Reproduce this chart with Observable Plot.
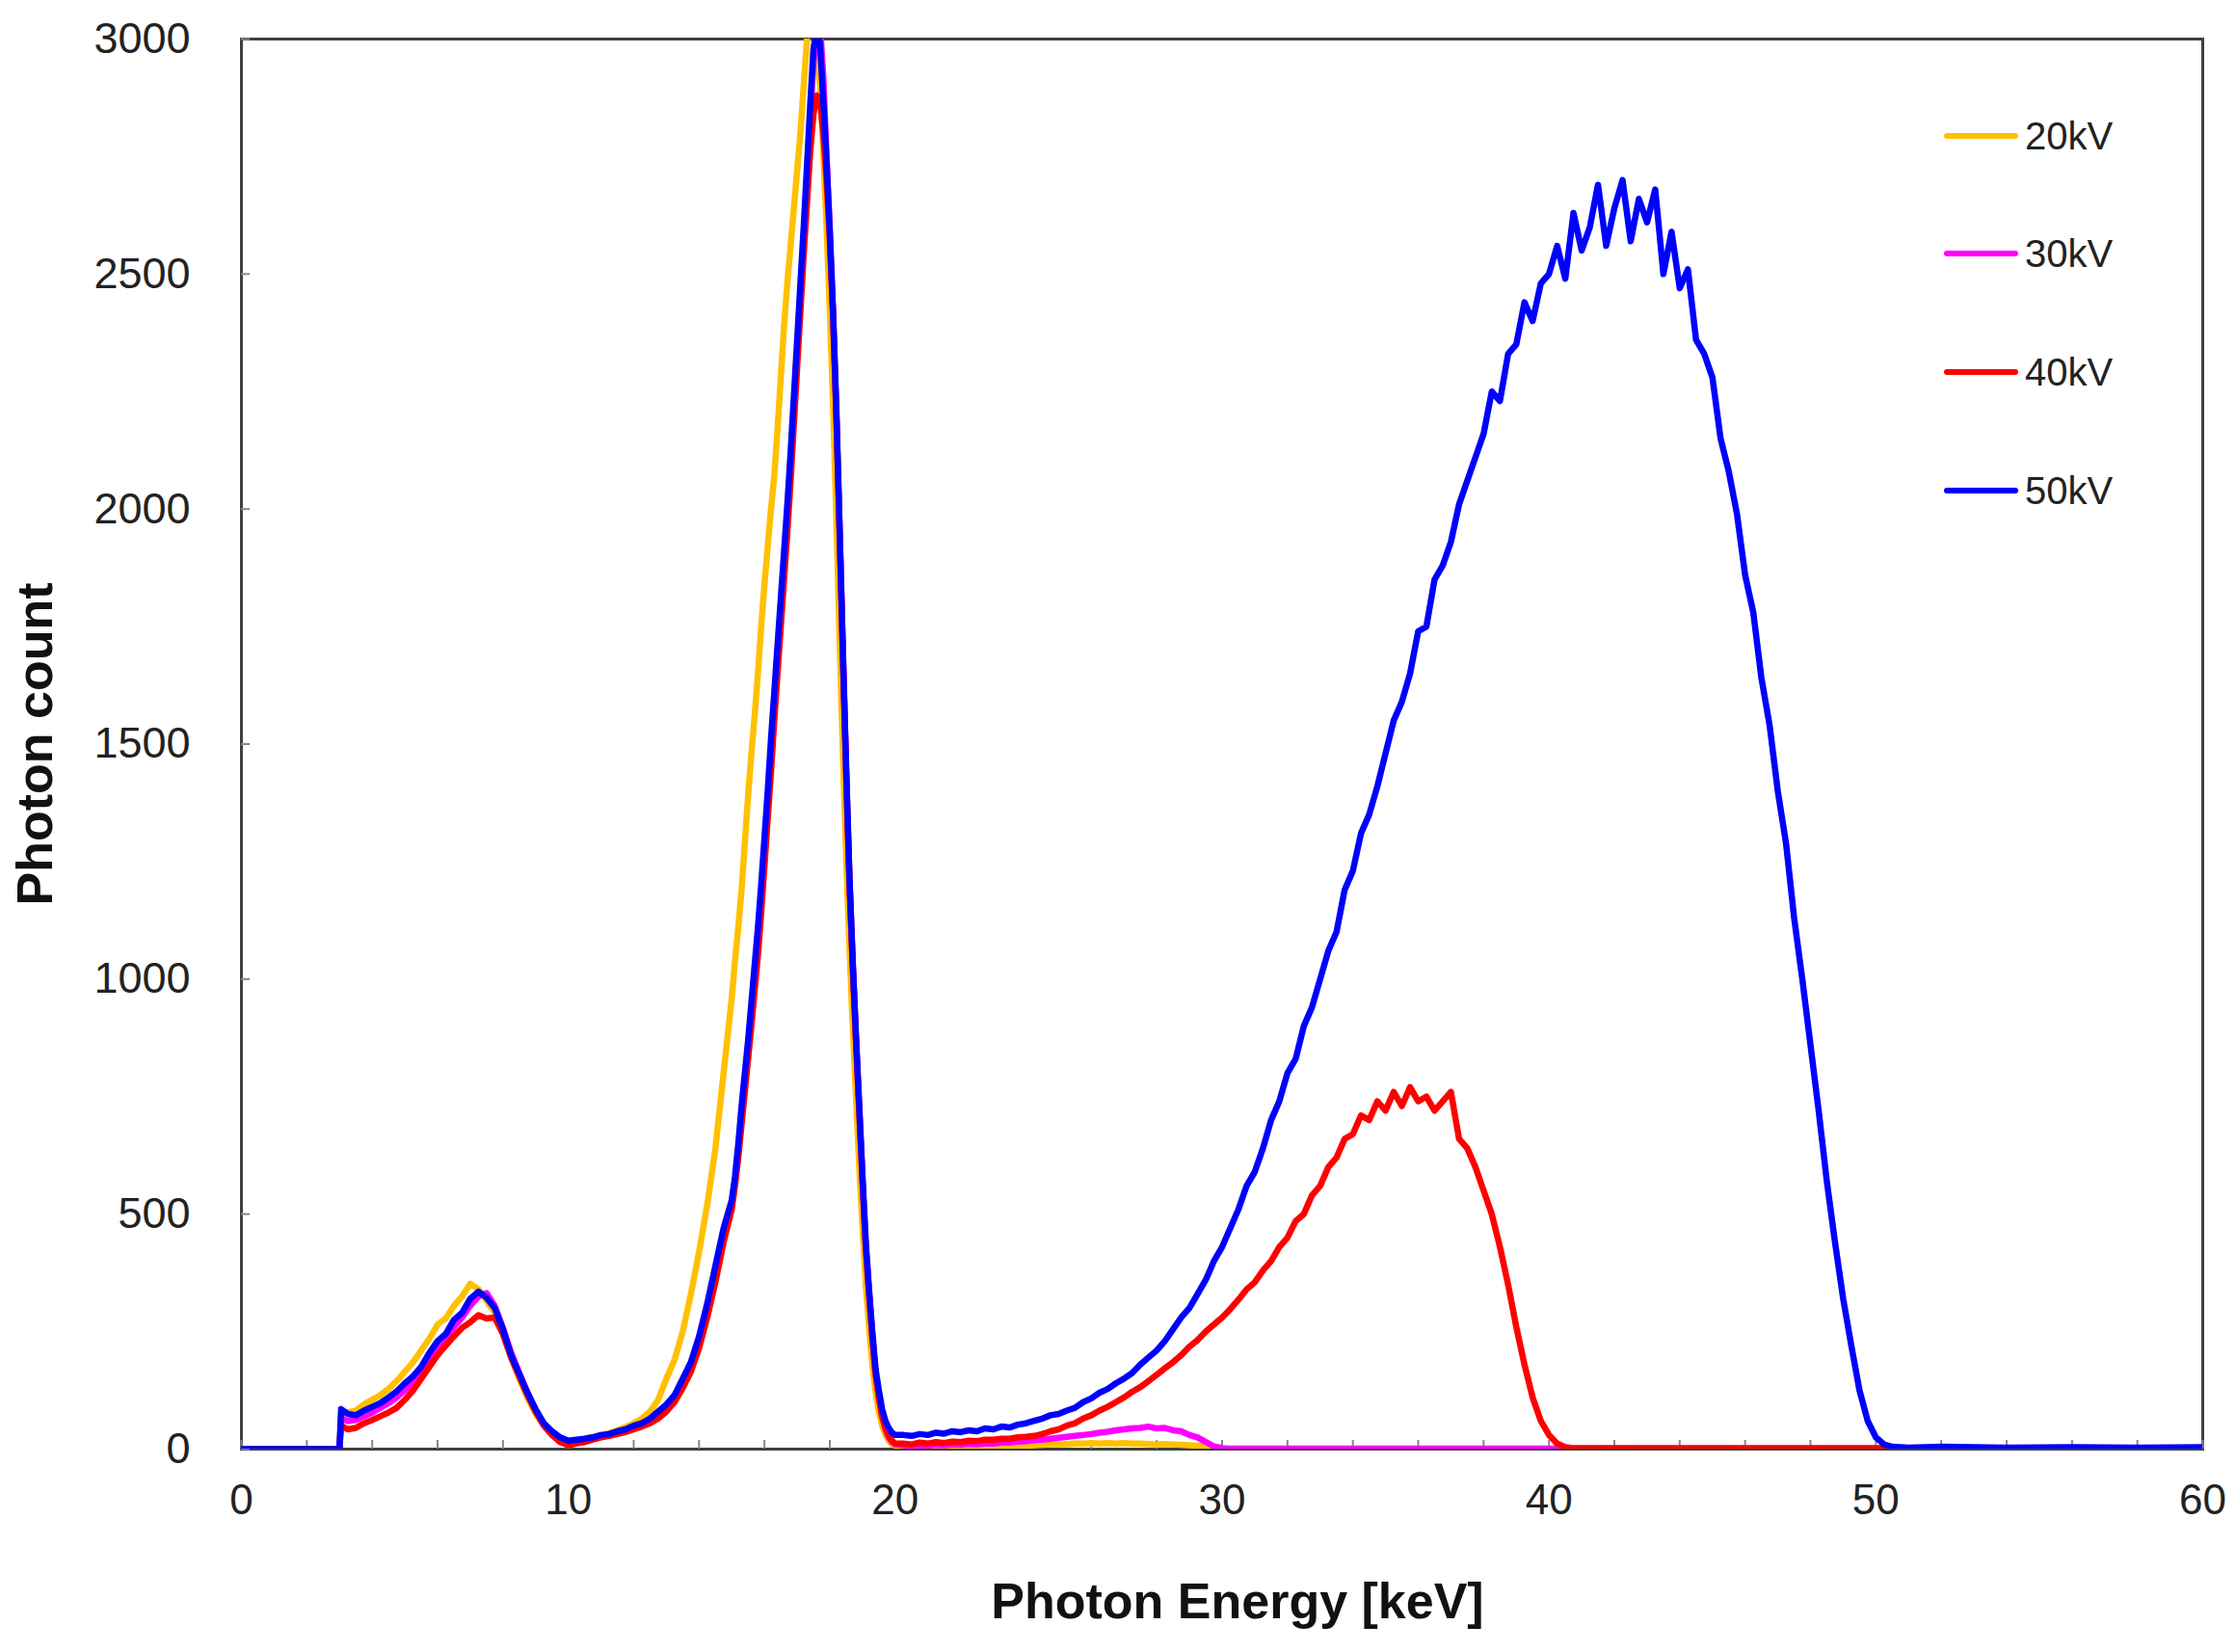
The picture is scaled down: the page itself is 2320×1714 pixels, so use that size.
<!DOCTYPE html>
<html><head><meta charset="utf-8">
<script src="https://cdn.jsdelivr.net/npm/d3@7"></script>
<script src="https://cdn.jsdelivr.net/npm/@observablehq/plot@0.6"></script>
<style>
body{margin:0;background:#fff;}
#wrap{position:relative;width:2320px;height:1714px;font-family:"Liberation Sans",Arial,sans-serif;}
#legend{position:absolute;left:2017px;top:0;}
.item{position:absolute;left:0;display:flex;align-items:center;height:50px;white-space:nowrap;}
.swatch{width:77px;height:6px;border-radius:3px;margin-right:7px;}
.lab{font-size:40px;color:#222;}
</style></head>
<body><div id="wrap"><div id="legend"></div></div>
<script>
// Photon energy grid (keV)
const energy = [
  0, 3.0, 3.05, 3.25, 3.5, 3.75,
  4, 4.25, 4.5, 4.75,  5, 5.25, 5.5, 5.75,  6, 6.25, 6.5, 6.75,  7, 7.25, 7.5, 7.75,
  8, 8.25, 8.5, 8.75,  9, 9.25, 9.5, 9.75,  10, 10.25, 10.5, 10.75,  11, 11.25, 11.5, 11.75,
  12, 12.25, 12.5, 12.75,  13, 13.25, 13.5, 13.75,  14, 14.25, 14.5, 14.75,
  15, 15.1, 15.2, 15.3, 15.4, 15.5, 15.6, 15.7, 15.8, 15.9,
  16, 16.1, 16.2, 16.3, 16.4, 16.5, 16.6, 16.7, 16.8, 16.9,
  17, 17.1, 17.2, 17.3, 17.4, 17.5, 17.6, 17.7, 17.8, 17.9,
  18, 18.1, 18.2, 18.3, 18.4, 18.5, 18.6, 18.7, 18.8, 18.9,
  19, 19.1, 19.2, 19.3, 19.4, 19.5, 19.6, 19.7, 19.8, 19.9,
  20, 20.25, 20.5, 20.75,  21, 21.25, 21.5, 21.75,  22, 22.25, 22.5, 22.75,  23, 23.25, 23.5, 23.75,
  24, 24.25, 24.5, 24.75,  25, 25.25, 25.5, 25.75,  26, 26.25, 26.5, 26.75,  27, 27.25, 27.5, 27.75,
  28, 28.25, 28.5, 28.75,  29, 29.25, 29.5, 29.75,  30, 30.25, 30.5, 30.75,  31, 31.25, 31.5, 31.75,
  32, 32.25, 32.5, 32.75,  33, 33.25, 33.5, 33.75,  34, 34.25, 34.5, 34.75,  35, 35.25, 35.5, 35.75,
  36, 36.25, 36.5, 36.75,  37, 37.25, 37.5, 37.75,  38, 38.25, 38.5, 38.75,  39, 39.25, 39.5, 39.75,
  40, 40.25, 40.5, 40.75,  41, 41.25, 41.5, 41.75,  42, 42.25, 42.5, 42.75,  43, 43.25, 43.5, 43.75,
  44, 44.25, 44.5, 44.75,  45, 45.25, 45.5, 45.75,  46, 46.25, 46.5, 46.75,  47, 47.25, 47.5, 47.75,
  48, 48.25, 48.5, 48.75,  49, 49.25, 49.5, 49.75,  50, 50.25, 50.5, 50.75,
  51, 52, 54, 56, 58, 60
];

const count20kV = [
  0, 0, 70, 78, 82, 95,
  105, 115, 128, 145,  165, 185, 210, 235,  265, 278, 305, 325,  352, 340, 315, 290,
  245, 195, 150, 110,  75, 50, 32, 20,  15, 18, 22, 26,  30, 34, 40, 47,
  55, 65, 80, 105,  150, 190, 250, 330,  420, 520, 640, 800,
  960, 1040, 1110, 1190, 1290, 1390, 1480, 1560, 1650, 1750,
  1840, 1920, 2000, 2070, 2170, 2280, 2390, 2480, 2560, 2640,
  2720, 2800, 2900, 3000, 3050, 3050, 2990, 2900, 2760, 2600,
  2420, 2220, 1980, 1720, 1480, 1260, 1070, 900, 750, 600,
  470, 350, 260, 180, 120, 80, 50, 30, 18, 10,
  8, 6, 5, 4,  4, 3, 4, 3,  4, 5, 4, 5,  5, 6, 6, 7,
  7, 8, 9, 10,  10, 11, 12, 12,  13, 12, 13, 12,  13, 12, 12, 11,
  10, 11, 10, 9,  8, 7, 5, 2,  0, 0, 0, 0,  0, 0, 0, 0,
  0, 0, 0, 0,  0, 0, 0, 0,  0, 0, 0, 0,  0, 0, 0, 0,
  0, 0, 0, 0,  0, 0, 0, 0,  0, 0, 0, 0,  0, 0, 0, 0,
  0, 0, 0, 0,  0, 0, 0, 0,  0, 0, 0, 0,  0, 0, 0, 0,
  0, 0, 0, 0,  0, 0, 0, 0,  0, 0, 0, 0,  0, 0, 0, 0,
  0, 0, 0, 0,  0, 0, 0, 0,  0, 0, 0, 0,
  0, 0, 0, 0, 0, 0
];

const count30kV = [
  0, 0, 65, 60, 62, 70,
  78, 88, 98, 110,  125, 142, 162, 190,  215, 235, 260, 280,  305, 325, 332, 305,
  258, 205, 162, 120,  82, 52, 32, 18,  10, 14, 18, 22,  27, 30, 35, 40,
  46, 52, 60, 72,  88, 108, 140, 175,  228, 295, 372, 460,
  520, 570, 635, 710, 780, 850, 925, 1000, 1080, 1170,
  1270, 1370, 1470, 1580, 1680, 1780, 1880, 1980, 2090, 2210,
  2330, 2450, 2570, 2700, 2830, 2950, 3030, 3030, 2920, 2750,
  2590, 2410, 2200, 1950, 1690, 1440, 1210, 1030, 870, 720,
  570, 430, 330, 240, 160, 110, 70, 42, 25, 15,
  10, 8, 6, 8,  7, 9, 8, 10,  9, 11, 10, 12,  12, 14, 14, 16,
  17, 19, 20, 22,  24, 26, 28, 30,  32, 35, 37, 40,  42, 44, 45, 48,
  44, 45, 40, 38,  30, 25, 15, 6,  2, 1, 1, 1,  1, 1, 1, 1,
  1, 1, 1, 1,  1, 1, 1, 1,  1, 1, 1, 1,  1, 1, 1, 1,
  1, 1, 1, 1,  1, 1, 1, 1,  1, 1, 1, 1,  1, 1, 1, 1,
  1, 1, 1, 1,  1, 1, 1, 1,  1, 1, 1, 1,  1, 1, 1, 1,
  1, 1, 1, 1,  1, 1, 1, 1,  1, 1, 1, 1,  1, 1, 1, 1,
  1, 1, 1, 1,  1, 1, 1, 1,  1, 1, 1, 1,
  0, 0, 0, 0, 0, 0
];

const count40kV = [
  0, 0, 50, 42, 45, 55,
  62, 70, 78, 88,  105, 125, 150, 175,  200, 220, 240, 258,  270, 285, 278, 280,
  245, 195, 155, 115,  80, 50, 30, 15,  8, 12, 15, 20,  25, 28, 32, 36,
  42, 48, 55, 65,  80, 100, 130, 165,  215, 280, 355, 440,
  510, 560, 620, 690, 760, 830, 900, 975, 1050, 1140,
  1240, 1340, 1440, 1550, 1650, 1750, 1850, 1950, 2060, 2180,
  2300, 2420, 2540, 2650, 2760, 2840, 2880, 2870, 2800, 2700,
  2570, 2410, 2200, 1950, 1690, 1440, 1210, 1030, 870, 720,
  570, 430, 330, 240, 160, 110, 70, 45, 28, 18,
  12, 12, 10, 14,  12, 15, 13, 16,  15, 18, 17, 20,  20, 22, 22, 25,
  26, 28, 32, 38,  42, 50, 55, 65,  72, 82, 90, 100,  110, 122, 132, 145,
  158, 172, 185, 200,  218, 232, 250, 265,  280, 298, 318, 340,  355, 380, 400, 430,
  450, 485, 500, 540,  560, 600, 620, 660,  670, 710, 700, 740,  720, 760, 730, 770,
  740, 750, 720, 740,  760, 660, 640, 600,  550, 500, 430, 350,  260, 180, 110, 60,
  30, 12, 4, 2,  2, 2, 2, 2,  2, 2, 2, 2,  2, 2, 2, 2,
  2, 2, 2, 2,  2, 2, 2, 2,  2, 2, 2, 2,  2, 2, 2, 2,
  2, 2, 2, 2,  2, 2, 2, 2,  2, 2, 2, 2,
  2, 1, 1, 1, 1, 1
];

const count50kV = [
  0, 0, 85, 75, 72, 82,
  90, 98, 110, 123,  140, 155, 175, 205,  230, 245, 275, 290,  320, 335, 322, 300,
  255, 200, 160, 120,  85, 55, 38, 25,  18, 20, 22, 25,  30, 32, 38, 42,
  50, 55, 65, 80,  95, 115, 150, 185,  240, 310, 390, 470,
  530, 580, 650, 730, 800, 870, 950, 1030, 1110, 1200,
  1300, 1400, 1510, 1610, 1710, 1810, 1910, 2010, 2120, 2240,
  2360, 2480, 2600, 2730, 2860, 2980, 3020, 2990, 2870, 2740,
  2590, 2420, 2210, 1960, 1700, 1450, 1220, 1040, 880, 730,
  580, 440, 340, 250, 170, 125, 85, 60, 45, 35,
  30, 30, 28, 32,  30, 35, 33, 38,  36, 40, 38, 44,  42, 48, 46, 52,
  55, 60, 65, 72,  75, 82, 88, 100,  108, 120, 128, 140,  150, 162, 180, 195,
  210, 230, 255, 280,  300, 330, 360, 400,  430, 470, 510, 560,  590, 640, 700, 740,
  800, 830, 900, 940,  1000, 1060, 1100, 1190,  1230, 1310, 1350, 1410,  1480, 1550, 1590, 1650,
  1740, 1750, 1850, 1880,  1930, 2010, 2060, 2110,  2160, 2250, 2230, 2330,  2350, 2440, 2400, 2480,
  2500, 2560, 2490, 2630,  2550, 2600, 2690, 2560,  2640, 2700, 2570, 2660,  2610, 2680, 2500, 2590,
  2470, 2510, 2360, 2330,  2280, 2150, 2080, 1990,  1860, 1780, 1640, 1540,  1400, 1290, 1130, 1000,
  860, 720, 570, 440,  320, 220, 125, 60,  25, 10, 5, 4,
  3, 5, 3, 4, 3, 4
];

const seriesNames = ["20kV", "30kV", "40kV", "50kV"];
const seriesCounts = [count20kV, count30kV, count40kV, count50kV];
const seriesColors = ["#FFC000", "#FF00FF", "#FF0000", "#0000FF"];

const xTicks = [0, 10, 20, 30, 40, 50, 60];
const xMinorTicks = [0, 2, 4, 6, 8, 10, 12, 14, 16, 18, 20, 22, 24, 26, 28, 30, 32, 34, 36, 38, 40, 42, 44, 46, 48, 50, 52, 54, 56, 58, 60];
const yTicks = [0, 500, 1000, 1500, 2000, 2500, 3000];

const xLabel = "Photon Energy [keV]";
const yLabel = "Photon count";

seriesCounts.forEach((c, i) => {
  if (c.length !== energy.length) throw new Error(seriesNames[i] + " length " + c.length + " vs " + energy.length);
});

const W = 2320, H = 1714, mL = 250, mR = 35, mT = 40, mB = 211;
const fw = W - mL - mR, fh = H - mT - mB;

const lineMarks = seriesNames.map((name, si) => {
  const rows = energy.map((e, i) => ({E: e, count: seriesCounts[si][i], kv: name}));
  return Plot.line(rows, {x: "E", y: "count", stroke: seriesColors[si], strokeWidth: 6.5, clip: true, strokeLinejoin: "round"});
});

const chart = Plot.plot({
  width: W, height: H,
  marginLeft: mL, marginRight: mR, marginTop: mT, marginBottom: mB,
  style: {fontFamily: "'Liberation Sans', Arial, sans-serif", background: "#fff", color: "#222"},
  x: {domain: [0, 60]},
  y: {domain: [0, 3000]},
  marks: [
    Plot.frame({stroke: "#404040", strokeWidth: 3}),
    Plot.tickX(xMinorTicks, {x: d => d, stroke: "#888", strokeWidth: 2, insetTop: fh - 9}),
    Plot.tickY(yTicks, {y: d => d, stroke: "#888", strokeWidth: 2, insetRight: fw - 9}),
    Plot.axisX({ticks: xTicks, tickSize: 0, tickPadding: 36, fontSize: 44, label: null, tickFormat: d => String(d)}),
    Plot.axisY({ticks: yTicks, tickSize: 0, tickPadding: 53, fontSize: 45, label: null, tickFormat: d => String(d)}),
    ...lineMarks,
    Plot.text([xLabel], {text: d => d, frameAnchor: "bottom", dy: 175, dx: 16, fontSize: 52, fontWeight: "bold", fill: "#111"}),
    Plot.text([yLabel], {text: d => d, frameAnchor: "left", textAnchor: "middle", dx: -213, rotate: -90, fontSize: 52, fontWeight: "bold", fill: "#111"})
  ]
});
document.getElementById("wrap").prepend(chart);

const legendY = [141, 263, 386, 509];
const legend = document.getElementById("legend");
seriesNames.forEach((name, i) => {
  const item = document.createElement("div");
  item.className = "item";
  item.style.top = (legendY[i] - 25) + "px";
  item.innerHTML = `<div class="swatch" style="background:${seriesColors[i]}"></div><span class="lab">${name}</span>`;
  legend.appendChild(item);
});
</script>
</body></html>
